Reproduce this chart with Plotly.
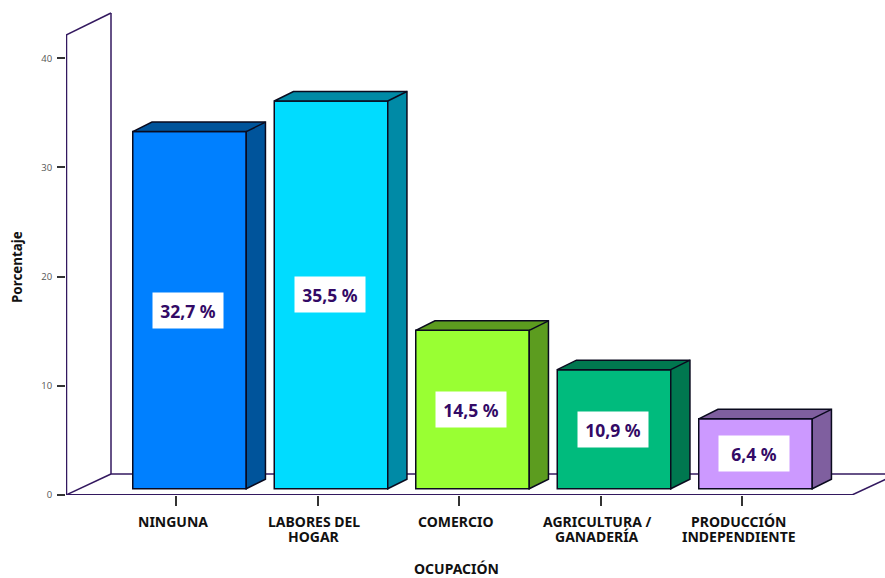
import plotly.graph_objects as go

# Survey results by occupation
categories = [["NINGUNA"], ["LABORES DEL", "HOGAR"], ["COMERCIO"], ["AGRICULTURA /", "GANADERÍA"], ["PRODUCCIÓN", "INDEPENDIENTE"]]
percent = [32.7, 35.5, 14.5, 10.9, 6.4]
labels = ["32,7 %", "35,5 %", "14,5 %", "10,9 %", "6,4 %"]
y_ticks = [0, 10, 20, 30, 40]

front_colors = ["#0080ff", "#00dcff", "#99ff33", "#00bb7d", "#cc99ff"]
side_colors = ["#00549b", "#008aa6", "#5c9c1f", "#00774f", "#7f5f9f"]

LINE = "#33185f"
EDGE = "#0a0a1e"

# Axis scales: pixels per unit along each axis
PX_X = 141.5
PX_Y = 10.92
MARGIN_L, MARGIN_B = 66, 83
WIDTH, HEIGHT = 885, 578
PLOT_H = HEIGHT - MARGIN_B
x_min = -(176 - MARGIN_L) / PX_X
x_max = x_min + (WIDTH - MARGIN_L) / PX_X
y_max = PLOT_H / PX_Y

# Oblique projection offsets, in data units
bar_width = 113.5 / PX_X
bar_dx, bar_dy = 19.2 / PX_X, 9.5 / PX_Y      # depth of one bar
plane_dx, plane_dy = 13.5 / PX_X, 6.3 / PX_Y  # bars stand slightly behind the front edge
wall_dx, wall_dy = 45 / PX_X, 21 / PX_Y       # depth of the floor and wall
wall_rise = 22 / PX_Y
floor_right = x_min + 786 / PX_X
wall_top = 460 / PX_Y

positions = list(range(len(categories)))

fig = go.Figure()

# Front faces
fig.add_trace(go.Bar(
    x=[p + plane_dx for p in positions],
    y=percent,
    base=[plane_dy] * len(percent),
    width=bar_width,
    marker=dict(color=front_colors, line=dict(color=EDGE, width=1.5)),
    hoverinfo="skip",
))

# Top and side faces
for p, v, c in zip(positions, percent, side_colors):
    left = p + plane_dx - bar_width / 2
    right = left + bar_width
    top = v + plane_dy
    fig.add_trace(go.Scatter(
        x=[left, left + bar_dx, right + bar_dx, right + bar_dx, right, right, left],
        y=[top, top + bar_dy, top + bar_dy, plane_dy + bar_dy, plane_dy, top, top],
        mode="lines", fill="toself", fillcolor=c,
        line=dict(color=EDGE, width=1.5), hoverinfo="skip",
    ))
    fig.add_trace(go.Scatter(
        x=[right, right + bar_dx], y=[top, top + bar_dy],
        mode="lines", line=dict(color=EDGE, width=1.5), hoverinfo="skip",
    ))

# Wall and floor outline, behind the bars
def seg(x0, y0, x1, y1, width):
    return dict(type="line", layer="below", x0=x0, y0=y0, x1=x1, y1=y1,
                line=dict(color=LINE, width=width))

shapes = [
    seg(x_min, 0, x_min, wall_top, 2.5),
    seg(x_min, wall_top, x_min + wall_dx, wall_top + wall_rise, 1.5),
    seg(x_min + wall_dx, wall_top + wall_rise, x_min + wall_dx, wall_dy, 1.5),
    seg(x_min, 0, x_min + wall_dx, wall_dy, 1.5),
    seg(x_min + wall_dx, wall_dy, x_max, wall_dy, 1.5),
    seg(x_min, 0, floor_right, 0, 2),
    seg(floor_right, 0, floor_right + wall_dx, wall_dy, 1.5),
]

# Value labels centred on each front face
annotations = [
    dict(x=p + plane_dx, y=v / 2 + plane_dy, text=f"<b>{t}</b>", showarrow=False,
         bgcolor="white", width=68, height=33, align="center", valign="middle", xshift=-1.5,
         font=dict(family="Noto Sans", size=17.5, color="#330a66"))
    for p, v, t in zip(positions, percent, labels)
]

# Category labels, one annotation per line for tight leading
for p, lines in zip(positions, categories):
    for i, line in enumerate(lines):
        annotations.append(dict(
            x=p, xref="x", y=(PLOT_H - 521 - 15.5 * i) / PLOT_H, yref="paper",
            xshift=-3.5, yanchor="middle", text=f"<b>{line}</b>", showarrow=False,
            font=dict(family="Noto Sans", size=14, color="#111111"),
        ))

annotations += [
    dict(xref="paper", yref="paper", x=(456 - MARGIN_L) / (WIDTH - MARGIN_L), y=-73 / PLOT_H,
         yanchor="middle", text="<b>OCUPACIÓN</b>", showarrow=False,
         font=dict(family="Noto Sans", size=14, color="#111111")),
    dict(xref="paper", yref="paper", x=-49 / (WIDTH - MARGIN_L), y=(495 - 267) / PLOT_H,
         xanchor="center", yanchor="middle",
         text="<b>Porcentaje</b>", textangle=-90, showarrow=False,
         font=dict(family="Noto Sans", size=13.4, color="#111111")),
]

fig.update_layout(
    width=WIDTH, height=HEIGHT,
    margin=dict(l=MARGIN_L, r=0, t=0, b=MARGIN_B),
    paper_bgcolor="white", plot_bgcolor="white",
    showlegend=False,
    shapes=shapes, annotations=annotations,
    font=dict(family="Noto Sans"),
    xaxis=dict(
        range=[x_min, x_max], showgrid=False, zeroline=False, showline=False,
        tickmode="array", tickvals=positions, showticklabels=False,
        ticks="outside", ticklen=10, tickwidth=1.5, tickcolor="#333333",
    ),
    yaxis=dict(
        range=[0, y_max], showgrid=False, zeroline=False, showline=False,
        tickmode="array", tickvals=y_ticks,
        ticks="outside", ticklen=8, tickwidth=1.5, tickcolor="#333333",
        ticklabelstandoff=3,
        tickfont=dict(family="Open Sans", size=9.5, color="#555555"),
    ),
)

fig.write_html("out.html")
